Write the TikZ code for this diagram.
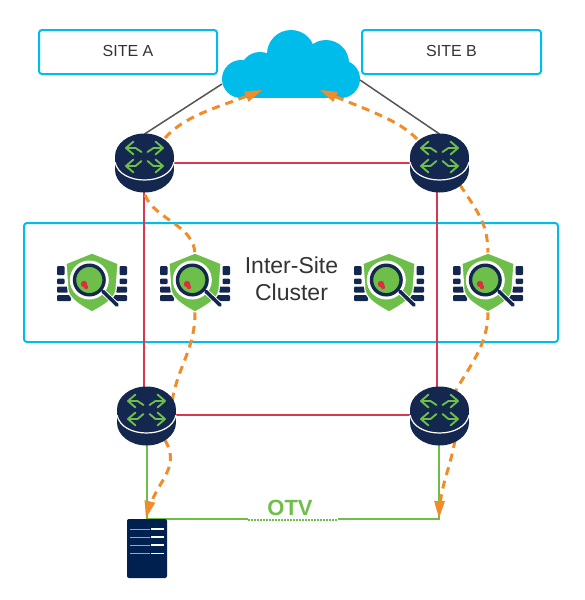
\documentclass[tikz,border=0pt]{standalone}
\usepackage{fontspec}
\setmainfont{Liberation Sans}
\usetikzlibrary{arrows.meta,bending}
\definecolor{cy}{HTML}{00BCEB}
\definecolor{navy}{HTML}{14274E}
\definecolor{srv}{HTML}{002050}
\definecolor{lime}{HTML}{6EBE4A}
\definecolor{redl}{HTML}{D9364F}
\definecolor{orng}{HTML}{F28C28}
\definecolor{gry}{HTML}{555555}
\tikzset{
  sitebox/.style={draw=cy,line width=2pt,rounded corners=3pt,anchor=north west,inner sep=0pt,outer sep=0pt,font=\fontsize{16}{19}\selectfont,text=black!80},
  anchorpt/.style={circle,inner sep=0pt,outer sep=0pt,minimum size=58pt},
  redthin/.style={draw=redl,line width=1.2pt},
  redthick/.style={draw=redl,line width=2pt},
  greenl/.style={draw=lime,line width=2pt},
  grayl/.style={draw=gry,line width=1.5pt},
  flow/.style={draw=orng,line width=3pt,dash pattern=on 8pt off 6pt},
  arrowlook/.style={arrows={-{Triangle[length=17pt,width=11pt,line width=0pt,flex=0]}}},
  router/.pic={
    \fill[navy] (0,6.5) ellipse[x radius=29.5,y radius=23];
    \fill[navy] (-29.5,-6.5) rectangle (29.5,6.5);
    \fill[navy] (0,-6.5) ellipse[x radius=29.5,y radius=23];
    \draw[white,line width=1.2pt] (-29.5,-1) .. controls (-27,11) and (-14,17) .. (0,17) .. controls (14,17) and (27,11) .. (29.5,-1);
    \begin{scope}[lime,line width=1.9pt,line cap=round,line join=round]
      \draw (-3,-11) -- (-9,-15) -- (-18.5,-15) (-11,-21.5) -- (-18.5,-15) -- (-11,-8.5);
      \draw (3,-11) -- (9,-15) -- (18.5,-15) (11,-21.5) -- (18.5,-15) -- (11,-8.5);
      \draw (-3,-2) -- (-9,3) -- (-18.5,3) (-11,-3.5) -- (-18.5,3) -- (-11,9.5);
      \draw (3,-2) -- (9,3) -- (18.5,3) (11,-3.5) -- (18.5,3) -- (11,9.5);
    \end{scope}
  },
  scanner/.pic={
    \fill[navy,rounded corners=1pt] (-35,-16.5) rectangle (-27.5,-7.5);
    \fill[navy,rounded corners=1pt] (-35,-4) rectangle (-27.5,1.5);
    \fill[navy,rounded corners=1pt] (-35,4) rectangle (-24,10);
    \fill[navy,rounded corners=1pt] (-35,12.5) rectangle (-21,18.5);
    \fill[navy,rounded corners=1pt] (27.5,-16.5) rectangle (35,-7.5);
    \fill[navy,rounded corners=1pt] (27.5,-4) rectangle (35,1.5);
    \fill[navy,rounded corners=1pt] (24,4) rectangle (35,10);
    \fill[navy,rounded corners=1pt] (21,12.5) rectangle (35,18.5);
    \fill[lime,draw=white,line width=1.2pt] (0,-29.5) -- (26,-19) -- (24,8) .. controls (22,18) and (8,25) .. (0,29.5) .. controls (-8,25) and (-22,18) .. (-24,8) -- (-26,-19) -- cycle;
    \fill[white] (-2.7,-2.5) circle (19.5);
    \draw[white,line width=5.5pt,line cap=round] (11,9) -- (25,22.5);
    \draw[navy,line width=3.6pt,line cap=round] (11,9) -- (25,22.5);
    \fill[lime,draw=navy,line width=3.4pt] (-2.7,-2.5) circle (14.8);
    \fill[redl!80!red] (-8,1.5) circle (3.2);
    \fill[redl!80!red] (-6,4.5) circle (2.2);
  }
}
\begin{document}
\begin{tikzpicture}[x=1pt,y=-1pt]
\useasboundingbox (0,0) rectangle (585,600);
% cloud
\node[anchorpt,minimum size=60pt] (cloud) at (291,70) {};
\fill[cy] (291,54) circle (24) (326,63) circle (23) (241,79) circle (19) (260,72) circle (20) (341,79) circle (19);
\fill[cy] (241,70) rectangle (341,98);
% boxes
\node[sitebox,minimum width=178pt,minimum height=44pt] (siteA) at (39,30) {\raisebox{2pt}{SITE A}};
\node[sitebox,minimum width=179pt,minimum height=44pt] (siteB) at (362,30) {\raisebox{2pt}{SITE B}};
\node[sitebox,minimum width=534pt,minimum height=119pt] (cluster) at (24,223) {};
% router anchors
\node[anchorpt] (r1) at (144.5,163) {};
\node[anchorpt] (r2) at (439.5,163) {};
\node[anchorpt] (r3) at (146.5,416) {};
\node[anchorpt] (r4) at (439.5,416) {};
% server anchor
\node[inner sep=0pt,minimum width=40pt,minimum height=59pt] (server) at (147,548.5) {};
% free ends
\coordinate (cl) at (222,84);
\coordinate (cr) at (360,80);
\coordinate (cornerL) at (146.5,519);
\coordinate (cornerR) at (439,519);
\coordinate (dotL) at (248,519);
\coordinate (dotR) at (338,519);
\coordinate (r1v) at (144,163);
\coordinate (r3v) at (144,416);
\coordinate (r2v) at (437,163);
\coordinate (r4v) at (437,416);
% connectors
\draw[grayl] (cl) -- (r1.north);
\draw[grayl] (cr) -- (r2.north);
\draw[redthin] (r1.center) -- (r2.center);
\draw[redthick] (r1v) -- (r3v);
\draw[redthick] (r2v) -- (r4v);
\draw[redthick] ([yshift=1pt]r3.center) -- ([yshift=1pt]r4.center);
\draw[greenl] (r3.center) -- (cornerL) -- (dotL);
\draw[greenl] ([xshift=-.5pt]r4.center) -- (cornerR) -- (dotR);
\draw[lime,line width=2pt,dash pattern=on 1.5pt off 1.5pt] ([yshift=-1pt]dotL) -- ([yshift=-1pt]dotR);
% flows
\draw[flow,arrowlook] (165,138) .. controls (187,113) and (225,106) .. (262,90);
\draw[flow,arrowlook] (417,139) .. controls (397,118) and (360,108) .. (320,90);
\draw[flow] (145,195) .. controls (155,220) and (195,225) .. (195,255);
\draw[flow] (195,312) .. controls (195,350) and (178,365) .. (172,402);
\draw[flow,arrowlook] (165,440) .. controls (182,470) and (155,480) .. (146,518);
\draw[flow] (460,185) .. controls (480,215) and (488,225) .. (488,255);
\draw[flow] (488,312) .. controls (488,345) and (470,365) .. (455,392);
\draw[flow,arrowlook] (455,440) .. controls (450,470) and (440,485) .. (439,518);
% routers
\pic at (r1) {router};
\pic at (r2) {router};
\pic at (r3) {router};
\pic at (r4) {router};
% scanners
\pic at (92,282.5) {scanner};
\pic at (195,282.5) {scanner};
\pic at (389,282.5) {scanner};
\pic at (488,282.5) {scanner};
% server
\fill[srv,rounded corners=2pt] (127,519) rectangle (167,578);
\foreach \yy in {529,537,545,553.5}{
  \draw[white!60!srv,line width=.6pt] (130,\yy) -- (150,\yy);
  \draw[white,line width=1.3pt] (151,\yy) -- (164,\yy);
}
% labels
\node[align=center,font=\fontsize{23}{27}\selectfont,text=black!80,inner sep=0pt] (lbl) at (291.5,279) {Inter-Site\\Cluster};
\node[font=\bfseries\fontsize{22}{26}\selectfont,text=lime,inner sep=0pt] (otv) at (290,508) {OTV};
\end{tikzpicture}
\end{document}
